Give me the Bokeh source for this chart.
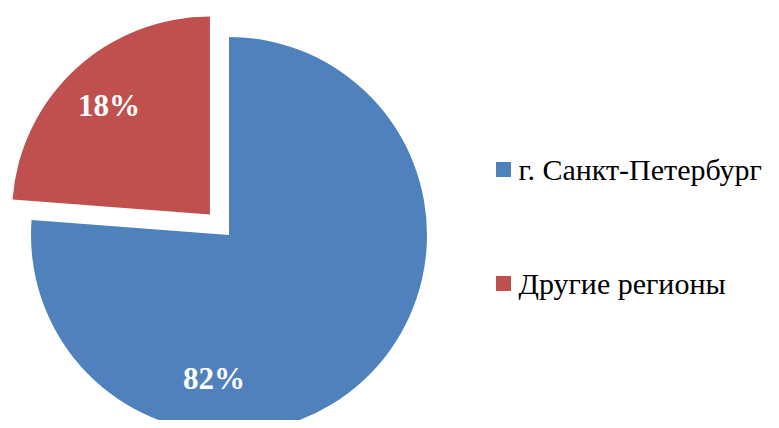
import math
from bokeh.plotting import figure
from bokeh.models import Range1d, Label
from bokeh.core.properties import value
from bokeh.embed import file_html
from bokeh.resources import INLINE

# ---- data ----
categories = ["г. Санкт-Петербург", "Другие регионы"]
label_texts = ["82%", "18%"]
shares = [76.2, 23.8]          # slice sizes as drawn in the picture
colors = ["#4F81BD", "#C0504D"]

# ---- style / layout (picture pixels) ----
W, H = 771, 420
FONT = "Liberation Serif"
def sy(y):                      # picture y -> data y
    return H - y

CX, CY, R = 228.5, 234.5, 198.0
explode = [0.0, 28.0]
label_radius = [0.73, 0.75]
label_angle_override = [-96.0, None]

p = figure(width=W, height=H, output_backend="svg", toolbar_location=None,
           x_range=Range1d(0, W), y_range=Range1d(0, H),
           x_axis_location=None, y_axis_location=None,
           min_border=0, outline_line_color=None)
p.grid.visible = False

# invisible font warm-up so the serif face is loaded before the visible texts
p.text(x=[600, 600], y=[sy(60), sy(100)], text=categories, text_alpha=0,
       text_font=value(FONT), text_font_size="30px")
p.text(x=[600, 600], y=[sy(60), sy(100)], text=label_texts, text_alpha=0,
       text_font=value(FONT), text_font_style="bold", text_font_size="31px")

total = sum(shares)
cum = 0.0
xs, ys, starts, ends, lx, ly = [], [], [], [], [], []
for i, s in enumerate(shares):
    a_end = 90.0 - 360.0 * cum / total
    a_start = 90.0 - 360.0 * (cum + s) / total
    cum += s
    mid = math.radians((a_start + a_end) / 2)
    cx = CX + explode[i] * math.cos(mid)
    cy = sy(CY) + explode[i] * math.sin(mid)
    xs.append(cx); ys.append(cy)
    starts.append(math.radians(a_start)); ends.append(math.radians(a_end))
    la = math.radians(label_angle_override[i]) if label_angle_override[i] is not None else mid
    lx.append(cx + label_radius[i] * R * math.cos(la))
    ly.append(cy + label_radius[i] * R * math.sin(la))

p.wedge(x=xs, y=ys, radius=R, start_angle=starts, end_angle=ends,
        fill_color=colors, line_color=None)

for i in range(len(shares)):
    p.add_layout(Label(x=lx[i], y=ly[i], text=label_texts[i], text_color="white",
                       text_font=FONT, text_font_style="bold",
                       text_font_size="31px", text_align="center",
                       text_baseline="middle"))

# legend
leg_y = [sy(169), sy(283)]
p.scatter(x=[503] * 2, y=leg_y, marker="square", size=15, fill_color=colors,
          line_color=None)
for i in range(len(categories)):
    p.add_layout(Label(x=518, y=leg_y[i], text=categories[i], text_color="black",
                       text_font=FONT, text_font_size="30px",
                       text_align="left", text_baseline="middle"))

open("out.html", "w").write(file_html(p, INLINE))
